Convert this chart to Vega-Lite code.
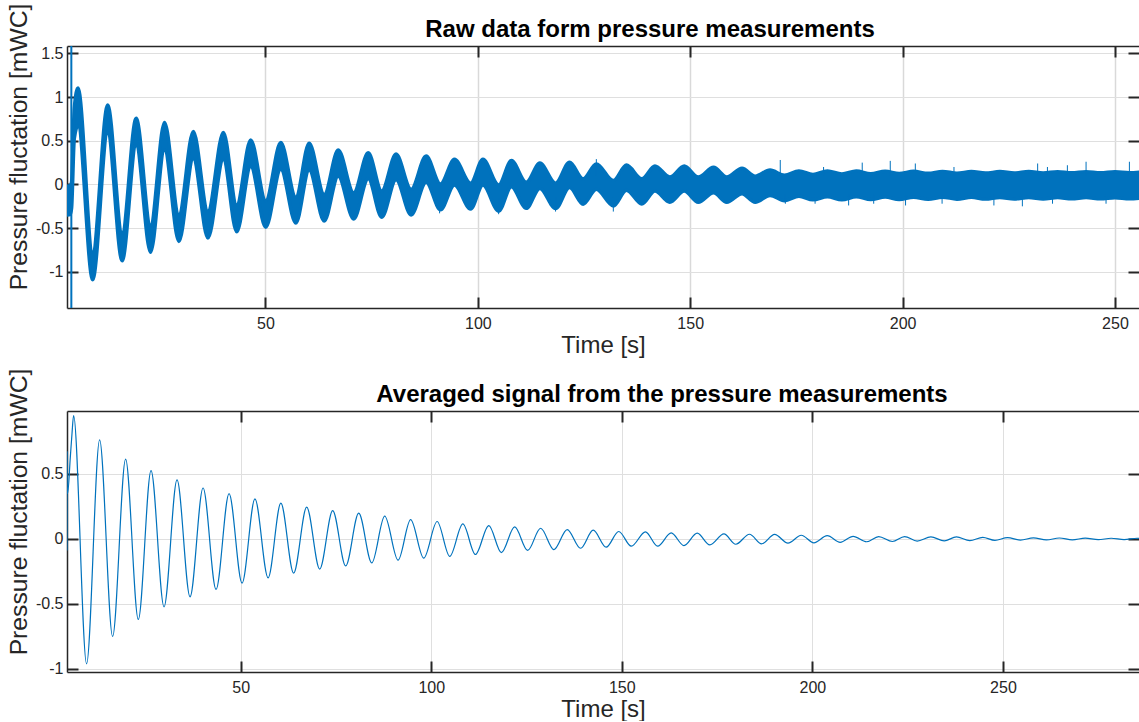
{
  "$schema": "https://vega.github.io/schema/vega-lite/v6.json",
  "padding": {"left": 6, "top": 3, "right": 0, "bottom": 0},
  "spacing": 11,
  "config": {
    "font": "Liberation Sans",
    "view": {"stroke": null},
    "axis": {
      "domainColor": "#262626", "domainWidth": 1.5,
      "tickColor": "#262626", "tickWidth": 2, "tickSize": -11,
      "labelColor": "#262626", "labelFontSize": 16, "labelFont": "Liberation Sans",
      "titleColor": "#262626", "titleFontSize": 24, "titleFontWeight": "normal", "titleFont": "Liberation Sans",
      "gridColor": "#dfdfdf", "gridWidth": 1
    },
    "title": {"fontSize": 24, "fontWeight": "bold", "color": "#000000", "font": "Liberation Sans"}
  },
  "vconcat": [
    {
      "width": 1072, "height": 262,
      "title": {"text": "Raw data form pressure measurements", "dx": 47, "offset": -39},
      "layer": [
        {
          "data": {"values": [
            {"t": 3.28, "hi": -0.02, "lo": -0.35},
            {"t": 4.0, "hi": -0.015, "lo": -0.345},
            {"t": 4.35, "hi": 0.025, "lo": -0.275},
            {"t": 5.0, "hi": 0.875, "lo": 0.525},
            {"t": 5.87, "hi": 1.105, "lo": 0.675},
            {"t": 9.32, "hi": -0.775, "lo": -1.09},
            {"t": 12.86, "hi": 0.909, "lo": 0.585},
            {"t": 16.26, "hi": -0.555, "lo": -0.873},
            {"t": 19.56, "hi": 0.757, "lo": 0.445},
            {"t": 22.94, "hi": -0.465, "lo": -0.775},
            {"t": 26.24, "hi": 0.708, "lo": 0.395},
            {"t": 29.62, "hi": -0.345, "lo": -0.651},
            {"t": 33.01, "hi": 0.605, "lo": 0.295},
            {"t": 36.46, "hi": -0.305, "lo": -0.613},
            {"t": 40.09, "hi": 0.595, "lo": 0.285},
            {"t": 43.23, "hi": -0.235, "lo": -0.541},
            {"t": 46.53, "hi": 0.509, "lo": 0.205},
            {"t": 50.07, "hi": -0.185, "lo": -0.49},
            {"t": 53.61, "hi": 0.479, "lo": 0.175},
            {"t": 57.15, "hi": -0.145, "lo": -0.441},
            {"t": 60.29, "hi": 0.471, "lo": 0.165},
            {"t": 63.83, "hi": -0.115, "lo": -0.418},
            {"t": 67.13, "hi": 0.395, "lo": 0.095},
            {"t": 70.77, "hi": -0.095, "lo": -0.395},
            {"t": 74.2, "hi": 0.364, "lo": 0.065},
            {"t": 77.37, "hi": -0.075, "lo": -0.375},
            {"t": 80.75, "hi": 0.348, "lo": 0.055},
            {"t": 84.29, "hi": -0.055, "lo": -0.349},
            {"t": 87.83, "hi": 0.325, "lo": 0.025},
            {"t": 91.2, "hi": 0.005, "lo": -0.289},
            {"t": 94.5, "hi": 0.288, "lo": -0.005},
            {"t": 98.3, "hi": 0.015, "lo": -0.281},
            {"t": 101.2, "hi": 0.288, "lo": -0.005},
            {"t": 104.9, "hi": -0.005, "lo": -0.305},
            {"t": 107.9, "hi": 0.273, "lo": -0.025},
            {"t": 111.4, "hi": 0.025, "lo": -0.273},
            {"t": 114.6, "hi": 0.245, "lo": -0.045},
            {"t": 118.3, "hi": 0.015, "lo": -0.275},
            {"t": 121.6, "hi": 0.255, "lo": -0.035},
            {"t": 124.8, "hi": 0.065, "lo": -0.225},
            {"t": 127.9, "hi": 0.235, "lo": -0.055},
            {"t": 131.9, "hi": 0.045, "lo": -0.245},
            {"t": 135.0, "hi": 0.222, "lo": -0.065},
            {"t": 138.6, "hi": 0.065, "lo": -0.223},
            {"t": 141.7, "hi": 0.211, "lo": -0.075},
            {"t": 145.2, "hi": 0.085, "lo": -0.204},
            {"t": 148.6, "hi": 0.211, "lo": -0.075},
            {"t": 151.9, "hi": 0.085, "lo": -0.204},
            {"t": 155.5, "hi": 0.196, "lo": -0.095},
            {"t": 158.6, "hi": 0.085, "lo": -0.204},
            {"t": 162.2, "hi": 0.185, "lo": -0.105},
            {"t": 165.3, "hi": 0.095, "lo": -0.204},
            {"t": 168.8, "hi": 0.165, "lo": -0.125},
            {"t": 172.2, "hi": 0.105, "lo": -0.185},
            {"t": 175.6, "hi": 0.155, "lo": -0.135},
            {"t": 178.9, "hi": 0.115, "lo": -0.175},
            {"t": 182.3, "hi": 0.155, "lo": -0.14},
            {"t": 185.7, "hi": 0.12, "lo": -0.175},
            {"t": 189.1, "hi": 0.153, "lo": -0.14},
            {"t": 192.5, "hi": 0.123, "lo": -0.173},
            {"t": 195.9, "hi": 0.151, "lo": -0.143},
            {"t": 199.2, "hi": 0.125, "lo": -0.171},
            {"t": 202.6, "hi": 0.15, "lo": -0.145},
            {"t": 206.0, "hi": 0.127, "lo": -0.17},
            {"t": 209.4, "hi": 0.149, "lo": -0.145},
            {"t": 212.8, "hi": 0.129, "lo": -0.168},
            {"t": 216.2, "hi": 0.148, "lo": -0.147},
            {"t": 219.5, "hi": 0.13, "lo": -0.167},
            {"t": 222.9, "hi": 0.147, "lo": -0.148},
            {"t": 226.3, "hi": 0.131, "lo": -0.165},
            {"t": 229.7, "hi": 0.147, "lo": -0.149},
            {"t": 233.1, "hi": 0.132, "lo": -0.165},
            {"t": 236.5, "hi": 0.146, "lo": -0.15},
            {"t": 239.8, "hi": 0.133, "lo": -0.164},
            {"t": 243.2, "hi": 0.146, "lo": -0.15},
            {"t": 246.6, "hi": 0.133, "lo": -0.163},
            {"t": 250.0, "hi": 0.145, "lo": -0.151},
            {"t": 253.4, "hi": 0.134, "lo": -0.163},
            {"t": 256.8, "hi": 0.145, "lo": -0.151}
          ]},
          "mark": {"type": "area", "interpolate": "monotone", "color": "#0072BD", "stroke": "#0072BD", "strokeWidth": 3.5, "strokeJoin": "round", "clip": true},
          "encoding": {
            "x": {"field": "t", "type": "quantitative",
                  "scale": {"domain": [3.28, 255.66], "nice": false, "zero": false},
                  "axis": {"orient": "bottom", "values": [50, 100, 150, 200, 250], "grid": true, "gridWidth": 1.5, "gridColor": "#d9d9d9", "title": "Time [s]", "labelPadding": 18, "titlePadding": 2}},
            "y": {"field": "hi", "type": "quantitative",
                  "scale": {"domain": [-1.413, 1.584], "nice": false, "zero": false},
                  "axis": {"orient": "left", "values": [-1, -0.5, 0, 0.5, 1, 1.5], "labelExpr": "'' + datum.value", "grid": true, "title": "Pressure fluctation [mWC]", "titleFontSize": 24.7, "titleY": 100.5, "labelPadding": 15, "titlePadding": 4}},
            "y2": {"field": "lo"}
          }
        },
        {
          "data": {"values": [{"t": 4.3, "y1": -1.6, "y2": 1.7}]},
          "mark": {"type": "rule", "color": "#0072BD", "strokeWidth": 2, "clip": true},
          "encoding": {
            "x": {"field": "t", "type": "quantitative",
                  "scale": {"domain": [3.28, 255.66], "nice": false, "zero": false},
                  "axis": {"orient": "top", "values": [50, 100, 150, 200, 250], "labels": false, "grid": false, "title": null}},
            "y": {"field": "y1", "type": "quantitative",
                  "scale": {"domain": [-1.413, 1.584], "nice": false, "zero": false},
                  "axis": {"orient": "right", "values": [-1, -0.5, 0, 0.5, 1, 1.5], "labels": false, "grid": false, "title": null, "domain": false}},
            "y2": {"field": "y2"}
          }
        },
        {
          "data": {"values": [
            {"t": 91.0, "y1": -0.15, "y2": -0.33},
            {"t": 104.9, "y1": -0.15, "y2": -0.34},
            {"t": 118.3, "y1": -0.15, "y2": -0.31},
            {"t": 127.9, "y1": 0.1, "y2": 0.29},
            {"t": 131.9, "y1": -0.15, "y2": -0.31},
            {"t": 171.2, "y1": 0.1, "y2": 0.28},
            {"t": 181.4, "y1": 0.1, "y2": 0.2},
            {"t": 190.5, "y1": 0.1, "y2": 0.25},
            {"t": 197.1, "y1": 0.1, "y2": 0.27},
            {"t": 203.0, "y1": 0.1, "y2": 0.24},
            {"t": 212.1, "y1": 0.1, "y2": 0.2},
            {"t": 231.8, "y1": 0.1, "y2": 0.24},
            {"t": 234.1, "y1": 0.1, "y2": 0.2},
            {"t": 238.8, "y1": 0.1, "y2": 0.22},
            {"t": 243.2, "y1": 0.1, "y2": 0.26},
            {"t": 253.4, "y1": 0.1, "y2": 0.26},
            {"t": 172.4, "y1": -0.12, "y2": -0.22},
            {"t": 179.4, "y1": -0.12, "y2": -0.22},
            {"t": 187.3, "y1": -0.12, "y2": -0.24},
            {"t": 193.2, "y1": -0.12, "y2": -0.22},
            {"t": 200.7, "y1": -0.12, "y2": -0.24},
            {"t": 209.3, "y1": -0.12, "y2": -0.22},
            {"t": 221.5, "y1": -0.12, "y2": -0.24},
            {"t": 228.2, "y1": -0.12, "y2": -0.25},
            {"t": 235.3, "y1": -0.12, "y2": -0.22},
            {"t": 247.9, "y1": -0.12, "y2": -0.22}
          ]},
          "mark": {"type": "rule", "color": "#0072BD", "strokeWidth": 1, "clip": true},
          "encoding": {
            "x": {"field": "t", "type": "quantitative", "scale": {"domain": [3.28, 255.66], "nice": false, "zero": false}, "axis": null},
            "y": {"field": "y1", "type": "quantitative", "scale": {"domain": [-1.413, 1.584], "nice": false, "zero": false}, "axis": null},
            "y2": {"field": "y2"}
          }
        }
      ],
      "resolve": {"axis": {"x": "independent", "y": "independent"}}
    },
    {
      "width": 1072, "height": 261,
      "title": {"text": "Averaged signal from the pressure measurements", "dx": 59, "offset": -39},
      "data": {"values": [
        {"t": 4.44, "y": -0.09}, {"t": 4.46, "y": 0.67}, {"t": 4.5, "y": 0.4}, {"t": 4.6, "y": 0.35},
        {"t": 5.31, "y": 0.63}, {"t": 5.75, "y": 0.81},
        {"t": 6.17, "y": 0.949}, {"t": 9.58, "y": -0.962},
        {"t": 13.0, "y": 0.762}, {"t": 16.41, "y": -0.751},
        {"t": 19.82, "y": 0.615}, {"t": 23.15, "y": -0.62},
        {"t": 26.49, "y": 0.526}, {"t": 29.9, "y": -0.523},
        {"t": 33.31, "y": 0.454}, {"t": 36.72, "y": -0.446},
        {"t": 40.14, "y": 0.392}, {"t": 43.55, "y": -0.389},
        {"t": 46.96, "y": 0.349}, {"t": 50.37, "y": -0.341},
        {"t": 53.75, "y": 0.308}, {"t": 57.2, "y": -0.3},
        {"t": 60.55, "y": 0.275}, {"t": 63.9, "y": -0.264},
        {"t": 67.33, "y": 0.244}, {"t": 70.74, "y": -0.233},
        {"t": 74.15, "y": 0.218}, {"t": 77.56, "y": -0.208},
        {"t": 80.98, "y": 0.198}, {"t": 84.4, "y": -0.185},
        {"t": 87.8, "y": 0.175}, {"t": 91.3, "y": -0.164},
        {"t": 94.6, "y": 0.149}, {"t": 98.04, "y": -0.148},
        {"t": 101.55, "y": 0.134}, {"t": 104.86, "y": -0.135},
        {"t": 108.3, "y": 0.115}, {"t": 111.6, "y": -0.12},
        {"t": 115.1, "y": 0.103}, {"t": 118.4, "y": -0.105},
        {"t": 121.9, "y": 0.092}, {"t": 125.3, "y": -0.089},
        {"t": 128.7, "y": 0.082}, {"t": 132.2, "y": -0.082},
        {"t": 135.67, "y": 0.072}, {"t": 139.2, "y": -0.072},
        {"t": 142.5, "y": 0.067}, {"t": 145.9, "y": -0.064},
        {"t": 149.2, "y": 0.057}, {"t": 152.5, "y": -0.056},
        {"t": 156.2, "y": 0.054}, {"t": 159.4, "y": -0.056},
        {"t": 162.97, "y": 0.046}, {"t": 166.3, "y": -0.051},
        {"t": 169.8, "y": 0.044}, {"t": 173.1, "y": -0.046},
        {"t": 176.8, "y": 0.039}, {"t": 179.9, "y": -0.041},
        {"t": 183.5, "y": 0.036}, {"t": 186.7, "y": -0.038},
        {"t": 190.1, "y": 0.035}, {"t": 193.6, "y": -0.033},
        {"t": 197.1, "y": 0.028}, {"t": 200.4, "y": -0.03},
        {"t": 203.9, "y": 0.025}, {"t": 207.3, "y": -0.026},
        {"t": 210.7, "y": 0.02}, {"t": 214.2, "y": -0.022},
        {"t": 217.4, "y": 0.018}, {"t": 221.0, "y": -0.02},
        {"t": 224.2, "y": 0.018}, {"t": 227.5, "y": -0.017},
        {"t": 231.1, "y": 0.015}, {"t": 234.6, "y": -0.015},
        {"t": 237.8, "y": 0.015}, {"t": 241.3, "y": -0.013},
        {"t": 244.7, "y": 0.012}, {"t": 247.9, "y": -0.011},
        {"t": 251.2, "y": 0.01}, {"t": 254.6, "y": -0.009},
        {"t": 258.0, "y": 0.008}, {"t": 261.4, "y": -0.008},
        {"t": 264.8, "y": 0.007}, {"t": 268.2, "y": -0.007},
        {"t": 271.6, "y": 0.006}, {"t": 275.0, "y": -0.006},
        {"t": 278.4, "y": 0.005}, {"t": 281.8, "y": -0.005},
        {"t": 285.2, "y": 0.005}, {"t": 285.7, "y": 0.004}
      ]},
      "layer": [
        {
          "mark": {"type": "line", "interpolate": "monotone", "color": "#0072BD", "strokeWidth": 1.2, "clip": true},
          "encoding": {
            "x": {"field": "t", "type": "quantitative",
                  "scale": {"domain": [4.44, 285.7], "nice": false, "zero": false},
                  "axis": {"orient": "bottom", "values": [50, 100, 150, 200, 250], "grid": true, "title": "Time [s]", "labelPadding": 18, "titlePadding": 2}},
            "y": {"field": "y", "type": "quantitative",
                  "scale": {"domain": [-1.025, 0.985], "nice": false, "zero": false},
                  "axis": {"orient": "left", "values": [-1, -0.5, 0, 0.5], "labelExpr": "'' + datum.value", "grid": true, "title": "Pressure fluctation [mWC]", "titleFontSize": 24.7, "titleY": 100.5, "labelPadding": 15, "titlePadding": 4}}
          }
        },
        {
          "mark": {"type": "line", "strokeOpacity": 0, "clip": true},
          "encoding": {
            "x": {"field": "t", "type": "quantitative",
                  "scale": {"domain": [4.44, 285.7], "nice": false, "zero": false},
                  "axis": {"orient": "top", "values": [50, 100, 150, 200, 250], "labels": false, "grid": false, "title": null}},
            "y": {"field": "y", "type": "quantitative",
                  "scale": {"domain": [-1.025, 0.985], "nice": false, "zero": false},
                  "axis": {"orient": "right", "values": [-1, -0.5, 0, 0.5], "labels": false, "grid": false, "title": null, "domain": false}}
          }
        }
      ],
      "resolve": {"axis": {"x": "independent", "y": "independent"}}
    }
  ]
}
